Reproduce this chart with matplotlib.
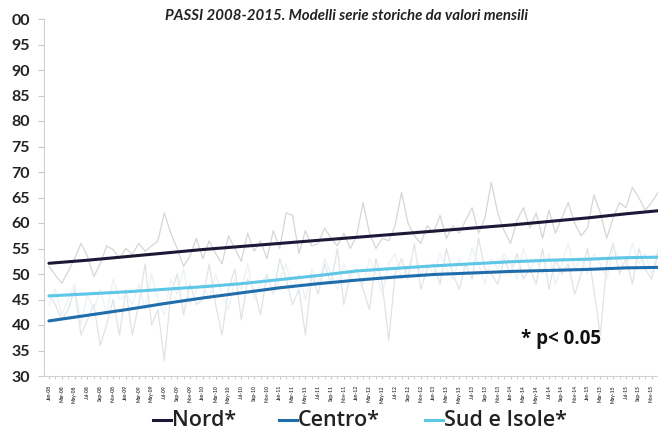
import matplotlib
matplotlib.use('Agg')
import matplotlib.pyplot as plt
from matplotlib.lines import Line2D
import numpy as np

plt.rcParams['font.family'] = ['Lato', 'DejaVu Sans']

# monthly labels Jan-08 .. Dec-15
months = ['Jan', 'Feb', 'Mar', 'Apr', 'May', 'Jun', 'Jul', 'Aug', 'Sep', 'Oct', 'Nov', 'Dec']
years = ['08', '09', '10', '11', '12', '13', '14', '15']

# y labels as they appear (top one is clipped in the source image)
y_ticks = [30, 35, 40, 45, 50, 55, 60, 65, 70, 75, 80, 85, 90, 95, 100]
y_labels = ['30', '35', '40', '45', '50', '55', '60', '65', '70', '75', '80', '85', '90', '95', '00']

series_names = ['Nord*', 'Centro*', 'Sud e Isole*']
series_colors = ['#1b1838', '#1f6dab', '#5ec6e6']

# raw monthly values
nord_raw = [51.5, 49.8, 48.2, 50.5, 53.0, 56.0, 53.5, 49.5, 52.0, 55.5, 54.8, 53.0,
            55.0, 53.8, 56.0, 54.5, 55.5, 56.5, 62.0, 58.0, 55.0, 51.5, 53.5, 57.0,
            53.0, 56.5, 54.0, 52.0, 57.5, 55.0, 52.5, 58.0, 54.5, 56.5, 53.0, 58.5,
            55.0, 62.0, 61.5, 54.0, 58.5, 55.5, 56.0, 59.0, 57.0, 55.5, 58.0, 55.0,
            57.5, 64.0, 58.0, 55.0, 57.0, 56.5, 59.5, 66.0, 60.0, 57.5, 56.0, 59.5,
            58.0, 61.5, 57.0, 59.5, 58.0, 60.5, 63.0, 58.0, 61.0, 68.0, 62.0, 58.5,
            56.0, 60.5, 63.0, 59.0, 62.0, 57.0, 62.5, 58.0, 61.0, 64.0, 60.0, 57.5,
            59.0, 65.5, 62.0, 57.0, 61.0, 64.0, 63.0, 67.0, 65.0, 62.5, 64.0, 66.0]
centro_raw = [46, 44, 41, 43, 47, 38, 41, 44, 36, 40, 45, 38,
              47, 38, 44, 52, 40, 43, 33, 46, 50, 42, 48, 44,
              45, 52, 44, 38, 47, 51, 41, 49, 47, 42, 50, 46,
              53, 49, 44, 47, 38, 50, 46, 52, 48, 55, 44, 50,
              51, 47, 43, 53, 48, 37, 50, 53, 49, 56, 47, 51,
              52, 48, 55, 50, 47, 52, 49, 57, 51, 50, 48, 53,
              50, 54, 49, 51, 48, 55, 47, 53, 50, 52, 46, 50,
              55, 47, 38, 52, 56, 50, 53, 48, 55, 51, 49, 54]
sud_raw = [44, 47, 42, 45, 48, 40, 46, 43, 47, 42, 49, 45,
           46, 44, 48, 43, 50, 45, 42, 49, 46, 51, 44, 47,
           48, 45, 50, 46, 43, 49, 47, 52, 45, 48, 50, 46,
           49, 52, 47, 50, 45, 51, 48, 53, 50, 47, 52, 49,
           51, 48, 53, 50, 46, 52, 54, 49, 51, 55, 50, 52,
           50, 54, 51, 49, 53, 50, 55, 52, 48, 53, 51, 54,
           52, 49, 55, 51, 53, 50, 54, 48, 52, 56, 51, 53,
           50, 54, 52, 49, 55, 53, 51, 56, 52, 54, 50, 55]

# model (trend) values every 6 months, month index in trend_idx
trend_idx = [0, 6, 12, 18, 24, 30, 36, 42, 48, 54, 60, 66, 72, 78, 84, 90, 95]
nord_trend = [52.1, 52.7, 53.4, 54.1, 54.8, 55.4, 56.0, 56.6, 57.2, 57.8, 58.4, 59.0,
              59.6, 60.3, 61.0, 61.8, 62.4]
centro_trend = [40.8, 41.9, 43.0, 44.2, 45.3, 46.3, 47.3, 48.1, 48.8, 49.4, 49.9, 50.2,
                50.5, 50.7, 50.9, 51.2, 51.3]
sud_trend = [45.7, 46.1, 46.5, 47.0, 47.5, 48.1, 48.9, 49.7, 50.6, 51.1, 51.6, 52.0,
             52.4, 52.7, 52.9, 53.2, 53.3]

x_labels = [m + '-' + y for y in years for m in months]

W, H = 658, 432
fig = plt.figure(figsize=(W / 100, H / 100), dpi=100)
ax = fig.add_axes([44 / W, 56 / H, 614 / W, 357 / H])

x = np.arange(len(nord_raw))
ax.plot(x, nord_raw, color='#d6d6d6', lw=0.9)
ax.plot(x, centro_raw, color='#e0e3e6', lw=0.9)
ax.plot(x, sud_raw, color='#eaf2f6', lw=0.9)

ax.plot(trend_idx, nord_trend, color=series_colors[0], lw=2.2, solid_capstyle='round')
ax.plot(trend_idx, centro_trend, color=series_colors[1], lw=2.2, solid_capstyle='round')
ax.plot(trend_idx, sud_trend, color=series_colors[2], lw=2.2, solid_capstyle='round')

ax.set_ylim(30, 100)
ax.set_xlim(-0.77, 94.3)
ax.set_yticks(y_ticks)
ax.set_yticklabels(y_labels, fontsize=11.5, fontweight='bold', color='#222222')
ax.set_xticks(x[::2])
ax.set_xticklabels(x_labels[::2], rotation=90, fontsize=3.6, fontweight='bold', color='#404040')
ax.set_xticks(x[1::2], minor=True)
ax.tick_params(axis='y', length=4, color='#c8c8c8', pad=6)
ax.tick_params(axis='x', which='both', length=2.5, color='#c8c8c8', pad=4)

for s in ['top', 'right']:
    ax.spines[s].set_visible(False)
ax.spines['left'].set_color('#d0d0d0')
ax.spines['bottom'].set_color('#d0d0d0')

ax.text(73.6, 37.2, '* p< 0.05', fontsize=13.5, fontweight='bold', color='#111111',
        ha='left', va='center', family=['Open Sans', 'DejaVu Sans'])

fig.text(0.526, 0.962, 'PASSI 2008-2015. Modelli serie storiche da valori mensili',
         fontsize=10.8, fontweight='bold', style='italic', color='#222222', ha='center', va='center')

# legend drawn by hand to keep the uneven spacing of the original
leg_x = [153, 279, 425]
line_y = 1 - 420 / H
base_y = 1 - 426 / H
for x0, name, c in zip(leg_x, series_names, series_colors):
    fig.add_artist(Line2D([x0 / W, (x0 + 18) / W], [line_y, line_y], color=c, lw=2.2))
    fig.text((x0 + 19) / W, base_y, name, fontsize=15.5, fontweight='semibold', color='#222222',
             ha='left', va='baseline', family=['Open Sans', 'DejaVu Sans'])

fig.savefig('out.png', dpi=100)
